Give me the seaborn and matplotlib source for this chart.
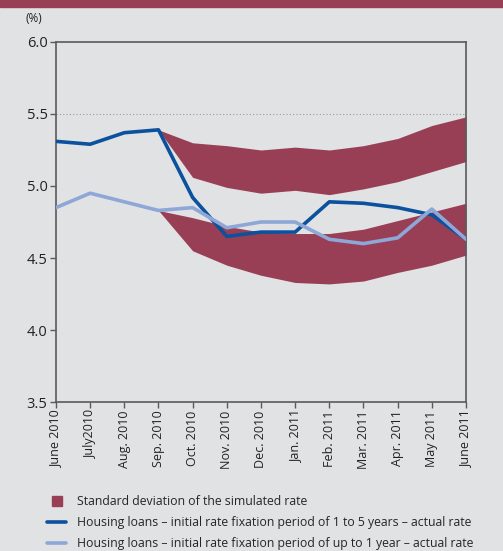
import matplotlib
matplotlib.use("Agg")
import matplotlib.pyplot as plt
import seaborn as sns
import pandas as pd
from matplotlib.lines import Line2D

MONTHS = ["June 2010", "July2010", "Aug. 2010", "Sep. 2010", "Oct. 2010",
          "Nov. 2010", "Dec. 2010", "Jan. 2011", "Feb. 2011", "Mar. 2011",
          "Apr. 2011", "May 2011", "June 2011"]

RATE_1_5Y = [5.31, 5.29, 5.37, 5.39, 4.92, 4.65, 4.68, 4.68, 4.89, 4.88, 4.85, 4.80, 4.63]
RATE_UP_1Y = [4.85, 4.95, 4.89, 4.83, 4.85, 4.71, 4.75, 4.75, 4.63, 4.60, 4.64, 4.84, 4.63]

# simulated bands start at Sep. 2010 (index 3)
BAND_START = 3
UPPER_HI = [5.39, 5.30, 5.28, 5.25, 5.27, 5.25, 5.28, 5.33, 5.42, 5.48]
UPPER_LO = [5.39, 5.06, 4.99, 4.95, 4.97, 4.94, 4.98, 5.03, 5.10, 5.17]
LOWER_HI = [4.83, 4.78, 4.72, 4.68, 4.67, 4.67, 4.70, 4.76, 4.82, 4.88]
LOWER_LO = [4.83, 4.55, 4.45, 4.38, 4.33, 4.32, 4.34, 4.40, 4.45, 4.52]

BG = "#e1e2e4"
MAROON = "#983f56"
DARK_BLUE = "#0b519d"
LIGHT_BLUE = "#8ea7d7"
AXIS = "#5a5a5a"

sns.set_style("white", {"axes.facecolor": BG, "figure.facecolor": BG})
plt.rcParams["font.family"] = ["Open Sans", "DejaVu Sans"]


def main():
    fig = plt.figure(figsize=(5.03, 5.51), dpi=100)
    fig.patch.set_facecolor(BG)
    ax = fig.add_axes([0.1113, 0.2704, 0.8151, 0.6534])
    ax.set_facecolor(BG)

    # maroon band on top of the figure
    fig.patches.append(plt.Rectangle((0, 1 - 7 / 551), 1, 7 / 551, transform=fig.transFigure,
                                     color=MAROON, zorder=0))

    x = list(range(len(MONTHS)))
    xb = x[BAND_START:]
    ax.fill_between(xb, UPPER_LO, UPPER_HI, color=MAROON, lw=0, zorder=1)
    ax.fill_between(xb, LOWER_LO, LOWER_HI, color=MAROON, lw=0, zorder=1)

    df = pd.DataFrame({"x": x, "a": RATE_1_5Y, "b": RATE_UP_1Y})
    sns.lineplot(data=df, x="x", y="a", color=DARK_BLUE, lw=2.6, ax=ax, zorder=3)
    sns.lineplot(data=df, x="x", y="b", color=LIGHT_BLUE, lw=2.6, ax=ax, zorder=4)

    ax.axhline(5.5, color="#9a9a9a", lw=0.8, ls=(0, (1, 2)), zorder=0)

    ax.set_xlim(0, len(MONTHS) - 1)
    ax.set_ylim(3.5, 6.0)
    ax.set_yticks([3.5, 4.0, 4.5, 5.0, 5.5, 6.0])
    ax.set_yticklabels(["3.5", "4.0", "4.5", "5.0", "5.5", "6.0"], fontsize=10.5, color="#222222")
    ax.set_xticks(x)
    ax.set_xticklabels(MONTHS, rotation=90, fontsize=9, color="#222222")
    ax.set_xlabel("")
    ax.set_ylabel("")
    ax.tick_params(axis="both", direction="out", length=4, width=1, color=AXIS, pad=2,
                   bottom=True, left=True)
    for s in ax.spines.values():
        s.set_visible(True)
        s.set_color(AXIS)
        s.set_linewidth(1.2)

    fig.text(0.05, 1 - 18 / 551, "(%)", fontsize=8.5, color="#222222", va="center")

    handles = [
        Line2D([0], [0], marker="s", color=BG, markerfacecolor=MAROON, markeredgecolor=MAROON,
               markersize=7, lw=0),
        Line2D([0], [0], color=DARK_BLUE, lw=2.6),
        Line2D([0], [0], color=LIGHT_BLUE, lw=2.6),
    ]
    labels = ["Standard deviation of the simulated rate",
              "Housing loans \u2013 initial rate fixation period of 1 to 5 years \u2013 actual rate",
              "Housing loans \u2013 initial rate fixation period of up to 1 year \u2013 actual rate"]
    fig.legend(handles, labels, loc="upper left", bbox_to_anchor=(0.093, 1 - 495 / 551),
               frameon=False, fontsize=8.8, handlelength=1.6, handletextpad=0.9,
               labelspacing=0.65, borderpad=0, borderaxespad=0)

    fig.savefig("out.png", dpi=100, facecolor=BG)


if __name__ == "__main__":
    main()
